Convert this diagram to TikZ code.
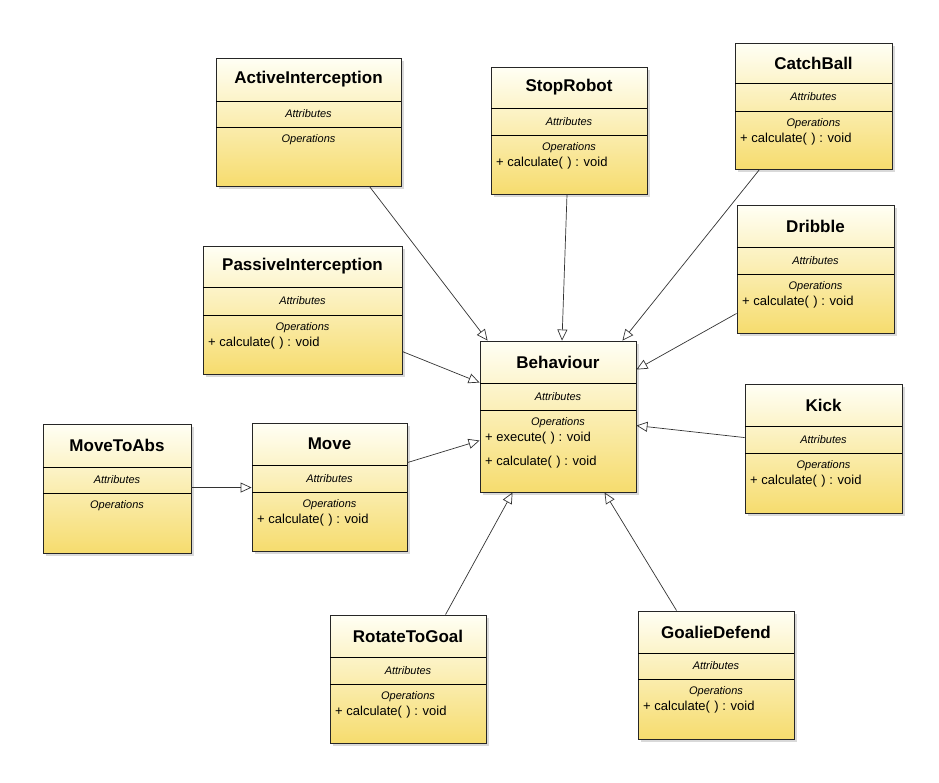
\documentclass[tikz,border=0pt]{standalone}
\usepackage{fontspec}
\setmainfont{Liberation Sans}
\usetikzlibrary{arrows.meta,calc}
\tikzset{
 umlbox/.style={draw=black!85,line width=0.9pt,top color=yellow!4,bottom color={rgb,255:red,246;green,220;blue,110},inner sep=0},
 ttl/.style={font=\fontsize{17}{19}\selectfont\bfseries},
 sec/.style={font=\fontsize{11}{12}\selectfont\itshape},
 opl/.style={font=\fontsize{13}{24}\selectfont,anchor=north west,align=left,inner sep=0},
 gen/.style={draw=black!80,line width=0.7pt,-{Triangle[open,length=11pt,width=10pt]}}
}
% #1 name #2 x1 #3 y1 #4 x2 #5 y2 #6 title bottom #7 attr bottom #8 title #9 ops
\newcommand\umlbox[9]{%
 \fill[black!15] (#2+3,#3+3) rectangle (#4+3,#5+3);
 \node[umlbox,minimum width=#4-#2,minimum height=#5-#3] (#1) at ({(#2+#4)/2},{(#3+#5)/2}) {};
 \draw[line width=0.7pt] (#2,#6) -- (#4,#6) (#2,#7) -- (#4,#7);
 \node[ttl] (#1-t) at ({(#2+#4)/2},{(#3+#6)/2}) {#8};
 \node[sec] (#1-a) at ({(#2+#4)/2},{(#6+#7)/2}) {Attributes};
 \node[sec] (#1-o) at ({(#2+#4)/2},#7+13) {Operations};
 \node[opl] (#1-l) at (#2+5,#7+22) {#9};
}
\begin{document}
\begin{tikzpicture}[x=1pt,y=-1pt]
\fill[white] (0,0) rectangle (939,782);
\useasboundingbox (0,0) rectangle (939,782);
\umlbox{ai}{216}{58}{401}{186}{101}{127}{ActiveInterception}{}
\umlbox{sr}{491}{67}{647}{194}{108}{135}{StopRobot}{+ calculate(\,\,) : void}
\umlbox{cb}{735}{43}{892}{169}{83}{111}{CatchBall}{+ calculate(\,\,) : void}
\umlbox{dr}{737}{205}{894}{333}{247}{274}{Dribble}{+ calculate(\,\,) : void}
\umlbox{pi}{203}{246}{402}{374}{287}{315}{PassiveInterception}{+ calculate(\,\,) : void}
\umlbox{be}{480}{341}{636}{492}{383}{410}{Behaviour}{+ execute(\,\,) : void\\+ calculate(\,\,) : void}
\umlbox{ki}{745}{384}{902}{513}{426}{453}{Kick}{+ calculate(\,\,) : void}
\umlbox{ma}{43}{424}{191}{553}{467}{493}{MoveToAbs}{}
\umlbox{mo}{252}{423}{407}{551}{465}{492}{Move}{+ calculate(\,\,) : void}
\umlbox{rg}{330}{615}{486}{743}{657}{684}{RotateToGoal}{+ calculate(\,\,) : void}
\umlbox{gd}{638}{611}{794}{739}{653}{679}{GoalieDefend}{+ calculate(\,\,) : void}
\draw[gen] ($(ai.south east)+(-32,0)$) -- ($(be.north west)+(8,0)$);
\draw[gen] ($(sr.south)+(-2,0)$) -- ($(be.north)+(4,0)$);
\draw[gen] ($(cb.south west)+(25,0)$) -- ($(be.north east)+(-14,0)$);
\draw[gen] ($(dr.south west)+(0,-20)$) -- ($(be.north east)+(0,29)$);
\draw[gen] ($(ki.north west)+(0,54)$) -- ($(be.north east)+(0,85)$);
\draw[gen] ($(pi.north east)+(0,106)$) -- ($(be.north west)+(0,42)$);
\draw[gen] ($(mo.north east)+(0,40)$) -- ($(be.north west)+(0,100)$);
\draw[gen] ($(ma.north east)+(0,64)$) -- ($(mo.north west)+(0,65)$);
\draw[gen] ($(rg.north west)+(116,0)$) -- ($(be.south west)+(33,0)$);
\draw[gen] ($(gd.north west)+(39,0)$) -- ($(be.south west)+(125,0)$);
\end{tikzpicture}
\end{document}
